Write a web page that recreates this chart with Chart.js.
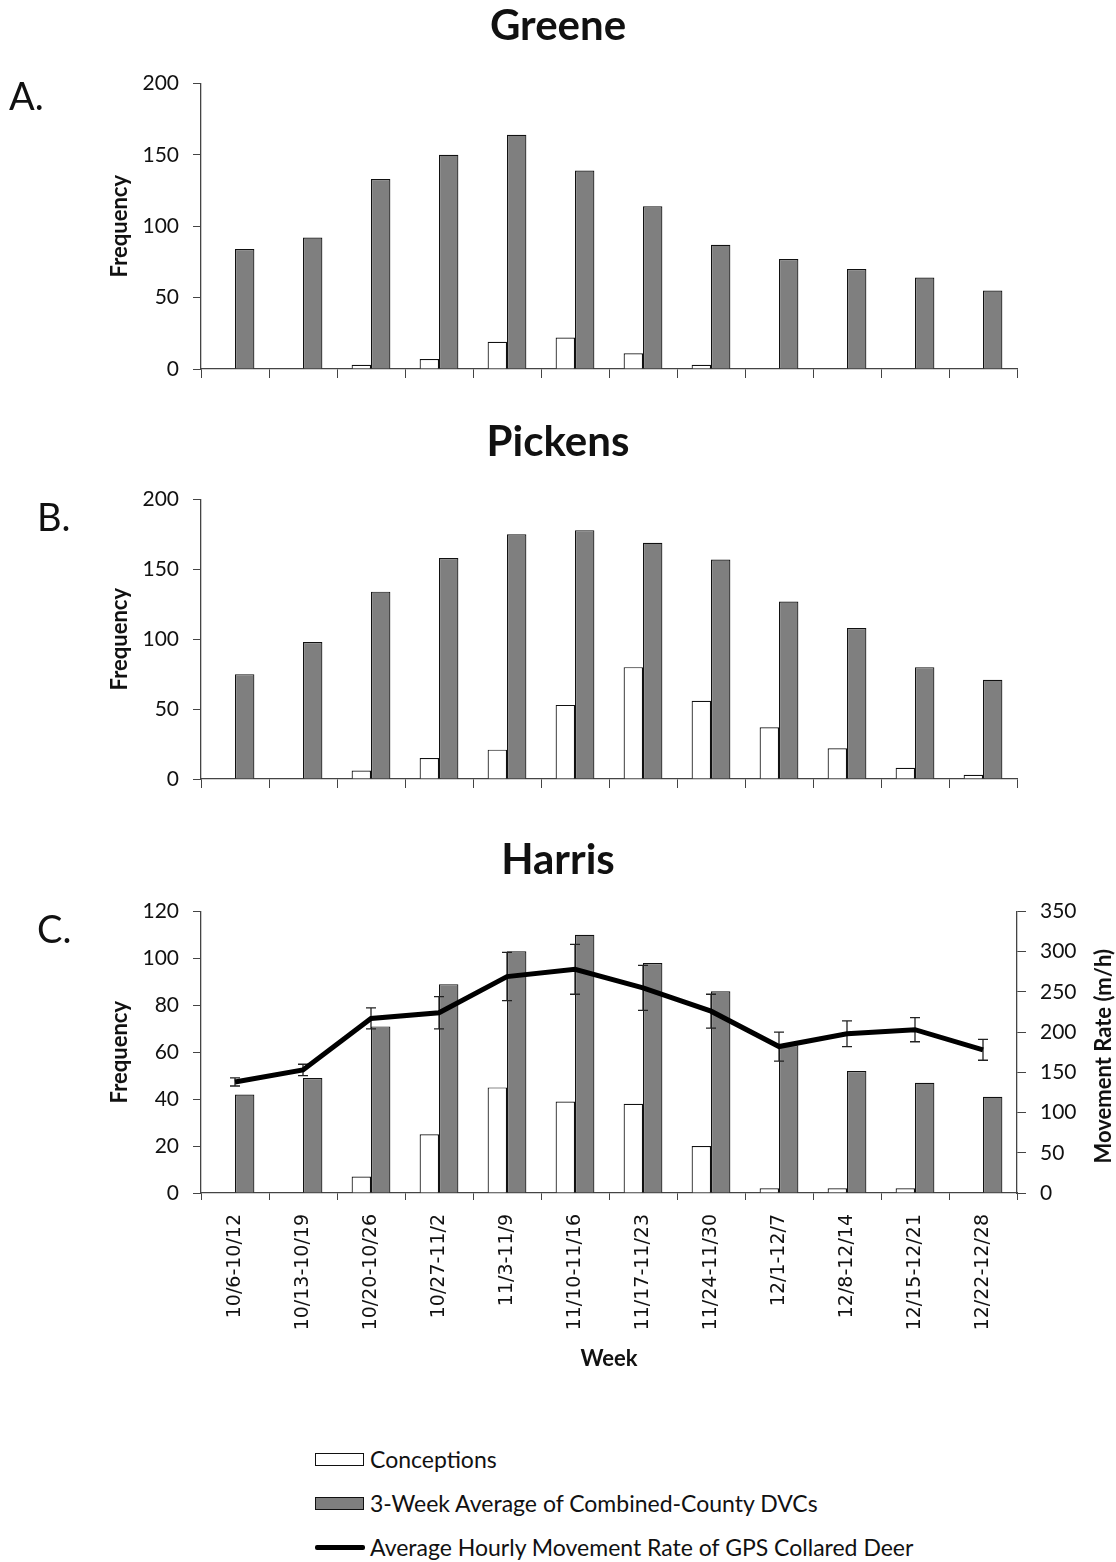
<!DOCTYPE html>
<html>
<head>
<meta charset="utf-8">
<script src="https://cdn.jsdelivr.net/npm/chart.js@4"></script>
<style>
  body { margin: 0; background: #fff; width: 1116px; height: 1562px; position: relative; font-family: Lato, sans-serif; color: #111; }
  .panel { position: absolute; left: 0; width: 1116px; }
  .letter { position: absolute; font-size: 38px; font-family: Lato, sans-serif; line-height: 1; }
  .leg { position: absolute; left: 315px; font-size: 23px; display: flex; align-items: center; height: 28px; }
  .sw { width: 49px; height: 13px; box-sizing: border-box; border: 1.3px solid #111; margin-right: 6px; }
  .swl { width: 50px; height: 5px; background: #000; margin-right: 5px; border-radius: 2px; }
</style>
</head>
<body>
<div class="panel" style="top:0;height:400px"><canvas id="greene"></canvas></div>
<div class="panel" style="top:416px;height:400px"><canvas id="pickens"></canvas></div>
<div class="panel" style="top:832px;height:560px"><canvas id="harris"></canvas></div>

<div class="letter" style="left:9px;top:76px">A.</div>
<div class="letter" style="left:37px;top:497px">B.</div>
<div class="letter" style="left:37px;top:909px">C.</div>

<div id="legend"></div>

<script>
// weeks (tick labels)
const weeks = ['10/6-10/12','10/13-10/19','10/20-10/26','10/27-11/2','11/3-11/9','11/10-11/16',
               '11/17-11/23','11/24-11/30','12/1-12/7','12/8-12/14','12/15-12/21','12/22-12/28'];

// Greene
const greeneConceptions = [0, 0, 3, 7, 19, 22, 11, 3, 0, 0, 0, 0];
const greeneDVC = [84, 92, 133, 150, 164, 139, 114, 87, 77, 70, 64, 55];

// Pickens
const pickensConceptions = [0, 0, 6, 15, 21, 53, 80, 56, 37, 22, 8, 3];
const pickensDVC = [75, 98, 134, 158, 175, 178, 169, 157, 127, 108, 80, 71];

// Harris
const harrisConceptions = [0, 0, 7, 25, 45, 39, 38, 20, 2, 2, 2, 0];
const harrisDVC = [42, 49, 71, 89, 103, 110, 98, 86, 63, 52, 47, 41];
const movementRate = [138, 153, 217, 224, 269, 278, 255, 226, 182, 198, 203, 178];
const movementErr = [5, 7, 13, 20, 30, 31, 28, 21, 18, 16, 15, 13];

const legendLabels = ['Conceptions', '3-Week Average of Combined-County DVCs', 'Average Hourly Movement Rate of GPS Collared Deer'];

Chart.defaults.font.family = 'Lato, sans-serif';
Chart.defaults.color = '#111';

const axisCol = '#444';

// draws error bars of a line dataset, under the line itself
const errorBars = {
  id: 'errorBars',
  beforeDatasetDraw(chart, args) {
    let ds = chart.data.datasets[args.index];
    if (!ds.errors) return;
    let y = chart.scales[args.meta.yAxisID];
    let ctx = chart.ctx;
    ctx.save();
    ctx.strokeStyle = '#222';
    ctx.lineWidth = 1.3;
    args.meta.data.forEach((pt, i) => {
      let e = ds.errors[i];
      let top = y.getPixelForValue(ds.data[i] + e);
      let bot = y.getPixelForValue(ds.data[i] - e);
      ctx.beginPath();
      ctx.moveTo(pt.x, top); ctx.lineTo(pt.x, bot);
      ctx.moveTo(pt.x - 5, top); ctx.lineTo(pt.x + 5, top);
      ctx.moveTo(pt.x - 5, bot); ctx.lineTo(pt.x + 5, bot);
      ctx.stroke();
    });
    ctx.restore();
  }
};

// right axis title, reading bottom to top
const rightTitle = {
  id: 'rightTitle',
  afterDraw(chart, args, opts) {
    if (!opts.text) return;
    let ctx = chart.ctx;
    let area = chart.chartArea;
    ctx.save();
    ctx.translate(chart.scales.y1.right - 12, (area.top + area.bottom) / 2 + 4);
    ctx.rotate(-Math.PI / 2);
    ctx.font = 'bold 22px Lato, sans-serif';
    ctx.fillStyle = '#111';
    ctx.textAlign = 'center';
    ctx.textBaseline = 'middle';
    ctx.fillText(opts.text, 0, 0);
    ctx.restore();
  }
};

let barSet = function(label, data, color){
  return {
    type: 'bar', label: label, data: data,
    backgroundColor: color, borderColor: '#111', borderWidth: 1.2,
    categoryPercentage: 0.57, barPercentage: 1.0, order: 1
  };
};

let yAxis = function(max, step, width){
  return {
    position: 'left', min: 0, max: max,
    ticks: { stepSize: step, padding: 14, font: { size: 21 }, color: '#111' },
    grid: { drawOnChartArea: false, drawTicks: true, tickLength: 8, color: axisCol },
    border: { color: axisCol, width: 1.3 },
    title: { display: true, text: 'Frequency', font: { size: 22, weight: 'bold' }, padding: { top: 107 }, color: '#111' },
    afterFit: s => { s.width = width; }
  };
};

// empty right-hand space so the title stays centred on the page
let spacer = {
  position: 'right', display: true,
  ticks: { display: false }, grid: { display: false }, border: { display: false },
  afterFit: s => { s.width = 99; }
};

let makeChart = function(id, title, titlePad, datasets, scales){
  return new Chart(document.getElementById(id), {
    type: 'bar',
    data: { labels: weeks, datasets: datasets },
    options: {
      responsive: true, maintainAspectRatio: false, animation: false,
      layout: { padding: 0 },
      plugins: {
        legend: { display: false },
        tooltip: { enabled: false },
        title: { display: true, text: title, font: { size: 42, weight: 'bold' }, color: '#111', padding: titlePad },
        rightTitle: { text: scales.y1 ? 'Movement Rate (m/h)' : '' }
      },
      scales: scales
    },
    plugins: [errorBars, rightTitle]
  });
};

let xPlain = function(height){
  return {
    ticks: { display: false },
    grid: { drawOnChartArea: false, drawTicks: true, tickLength: 9, color: axisCol },
    border: { color: axisCol, width: 1.3 },
    afterFit: s => { s.height = height; }
  };
};

makeChart('greene', 'Greene', { top: 1, bottom: 32 },
  [barSet('Conceptions', greeneConceptions, '#ffffff'), barSet('DVC', greeneDVC, '#7f7f7f')],
  { x: xPlain(31), y: yAxis(200, 50, 201), yR: spacer });

makeChart('pickens', 'Pickens', { top: 1, bottom: 32 },
  [barSet('Conceptions', pickensConceptions, '#ffffff'), barSet('DVC', pickensDVC, '#7f7f7f')],
  { x: xPlain(37), y: yAxis(200, 50, 201), yR: spacer });

makeChart('harris', 'Harris', { top: 3, bottom: 26 },
  [
    { type: 'line', label: 'Movement', data: movementRate, errors: movementErr, yAxisID: 'y1',
      borderColor: '#000', borderWidth: 5, pointRadius: 0, tension: 0, order: 0 },
    barSet('Conceptions', harrisConceptions, '#ffffff'),
    barSet('DVC', harrisDVC, '#7f7f7f')
  ],
  {
    x: {
      ticks: { minRotation: 90, maxRotation: 90, padding: 14, autoSkip: false,
               font: { family: 'DejaVu Sans', size: 19 }, color: '#111' },
      grid: { drawOnChartArea: false, drawTicks: true, tickLength: 7, color: axisCol },
      border: { color: axisCol, width: 1.3 },
      title: { display: true, text: 'Week', font: { size: 22, weight: 'bold' }, padding: { bottom: 20 }, color: '#111' },
      afterFit: s => { s.height = 199; }
    },
    y: yAxis(120, 20, 201),
    y1: {
      position: 'right', min: 0, max: 350,
      ticks: { stepSize: 50, padding: 14, font: { size: 21 }, color: '#111' },
      grid: { drawOnChartArea: false, drawTicks: true, tickLength: 9, color: axisCol },
      border: { color: axisCol, width: 1.3 },
      afterFit: s => { s.width = 99; }
    }
  });

// legend built from the label list
let legendHtml = '';
let tops = [1445, 1489, 1533];
let swatches = ['<div class="sw" style="background:#fff"></div>',
                '<div class="sw" style="background:#7f7f7f"></div>',
                '<div class="swl"></div>'];
legendLabels.forEach((t, i) => {
  legendHtml += `<div class="leg" style="top:${tops[i]}px">${swatches[i]}<span>${t}</span></div>`;
});
document.getElementById('legend').innerHTML = legendHtml;
</script>
</body>
</html>
